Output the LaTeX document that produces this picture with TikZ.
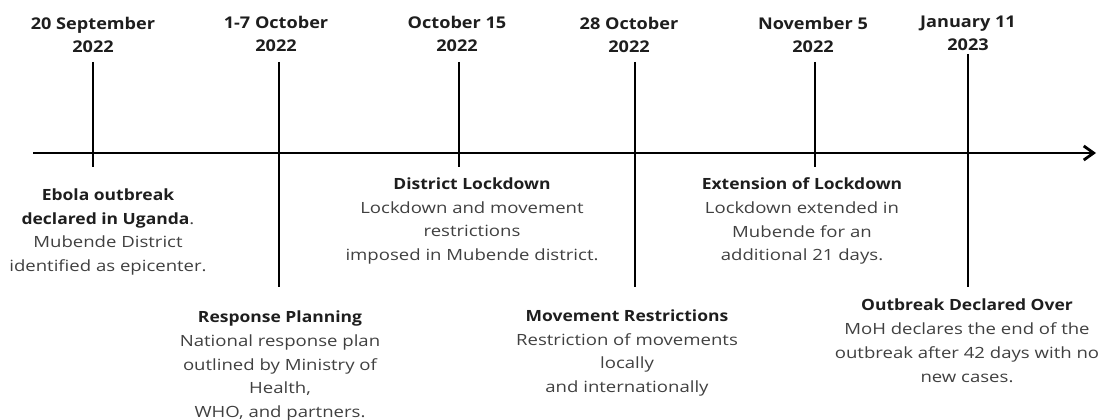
\documentclass[tikz,border=0pt]{standalone}
\usepackage{fontspec}
\setmainfont{Open Sans}
\newfontfamily\datefont[FakeStretch=1.12]{Open Sans}
\newfontfamily\evfont[FakeStretch=1.2]{Open Sans}
\newfontfamily\evtitlefont[FakeStretch=1.13]{Open Sans}
\usetikzlibrary{arrows.meta}

\definecolor{darktext}{HTML}{1E1E1E}
\definecolor{softtext}{HTML}{404040}

\tikzset{
  datelbl/.style={font=\datefont\bfseries\fontsize{11.5}{16.5}\selectfont, align=center, text=darktext},
  eventlbl/.style={font=\evfont\fontsize{11}{17}\selectfont, align=center, text=softtext},
  tickline/.style={line width=2pt},
  axisline/.style={line width=2pt, -{Straight Barb[length=7pt,width=10pt,line width=2pt]}}
}
\newcommand{\evtitle}[1]{\textcolor{darktext}{\evtitlefont\bfseries #1}}

\begin{document}
\begin{tikzpicture}[x=0.025cm,y=-0.025cm]
\useasboundingbox (0,0) rectangle (1101,420);

% time axis
\coordinate (axstart) at (33,153);
\coordinate (axend) at (1096,153);
\draw[axisline] (axstart) -- (axend);

% ticks
\coordinate (sep20top) at (93,62);   \coordinate (sep20bot) at (93,167);
\coordinate (oct1top) at (279,62);   \coordinate (oct1bot) at (279,287);
\coordinate (oct15top) at (459,62);  \coordinate (oct15bot) at (459,167);
\coordinate (oct28top) at (635,62);  \coordinate (oct28bot) at (635,287);
\coordinate (nov5top) at (815,62);   \coordinate (nov5bot) at (815,167);
\coordinate (jan11top) at (968,54);  \coordinate (jan11bot) at (968,287);
\draw[tickline] (sep20top) -- (sep20bot);
\draw[tickline] (oct1top) -- (oct1bot);
\draw[tickline] (oct15top) -- (oct15bot);
\draw[tickline] (oct28top) -- (oct28bot);
\draw[tickline] (nov5top) -- (nov5bot);
\draw[tickline] (jan11top) -- (jan11bot);

% dates
\node[datelbl] (sep20) at (93,35) {20 September\\2022};
\node[datelbl] (oct1) at (276,34) {1-7 October\\2022};
\node[datelbl] (oct15) at (457,34) {October 15\\2022};
\node[datelbl] (oct28) at (629,35) {28 October\\2022};
\node[datelbl] (nov5) at (813,35) {November 5\\2022};
\node[datelbl] (jan11) at (968,33) {January 11\\2023};

% events above / below
\node[eventlbl] (ebola) at (108,232) {\evtitle{Ebola outbreak}\\\evtitle{declared in Uganda}.\\Mubende District\\identified as epicenter.};
\node[eventlbl] (district) at (472,221) {\evtitle{District Lockdown}\\Lockdown and movement\\restrictions\\imposed in Mubende district.};
\node[eventlbl] (extend) at (802,221) {\evtitle{Extension of Lockdown}\\Lockdown extended in\\Mubende for an\\additional 21 days.};
\node[eventlbl] (response) at (280,366) {\evtitle{Response Planning}\\National response plan\\outlined by Ministry of\\Health,\\WHO, and partners.};
\node[eventlbl] (movement) at (627,353) {\evtitle{Movement Restrictions}\\Restriction of movements\\locally\\and internationally};
\node[eventlbl] (over) at (967,341) {\evtitle{Outbreak Declared Over}\\MoH declares the end of the\\outbreak after 42 days with no\\new cases.};
\end{tikzpicture}
\end{document}
